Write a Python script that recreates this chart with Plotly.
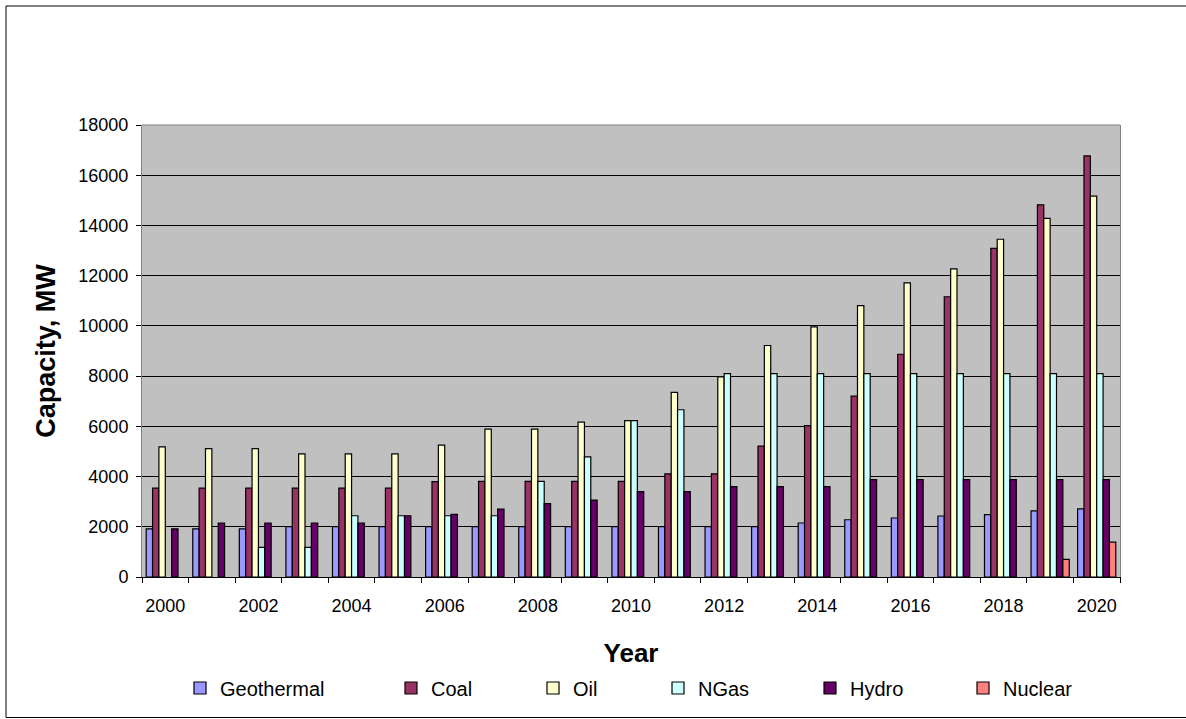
import plotly.graph_objects as go

# Installed generating capacity by source, MW
years = list(range(2000, 2021))
geothermal = [1920, 1920, 1920, 2010, 2010, 2010, 2010, 2010, 2010, 2010, 2010,
              2010, 2010, 2010, 2150, 2280, 2350, 2430, 2480, 2630, 2710]
coal = [3540, 3540, 3540, 3540, 3540, 3540, 3800, 3810, 3810, 3810, 3810,
        4110, 4110, 5210, 6030, 7200, 8870, 11160, 13090, 14820, 16770]
oil = [5180, 5110, 5110, 4900, 4900, 4900, 5250, 5890, 5890, 6170, 6230,
       7350, 7970, 9220, 9960, 10810, 11710, 12270, 13450, 14280, 15170]
ngas = [None, None, 1180, 1180, 2440, 2440, 2440, 2440, 3810, 4780, 6230,
        6660, 8100, 8100, 8100, 8100, 8100, 8100, 8100, 8100, 8100]
hydro = [1920, 2150, 2150, 2150, 2150, 2440, 2490, 2700, 2920, 3060, 3400,
         3400, 3600, 3600, 3600, 3880, 3880, 3880, 3880, 3880, 3880]
nuclear = [None] * 19 + [700, 1390]

series = [
    ("Geothermal", geothermal, "#9999FF"),
    ("Coal", coal, "#993366"),
    ("Oil", oil, "#FFFFCC"),
    ("NGas", ngas, "#CCFFFF"),
    ("Hydro", hydro, "#660066"),
    ("Nuclear", nuclear, "#FF8080"),
]

# left edge (px) of each legend entry along the bottom row
legend_left = [180, 391, 533, 658, 810, 963]

FONT = "Liberation Sans, Arial, sans-serif"
W, H = 1186, 719

fig = go.Figure()
layout_legends = {}
for i, (name, vals, color) in enumerate(series):
    key = "legend" if i == 0 else f"legend{i + 1}"
    fig.add_trace(go.Bar(
        x=years, y=vals, name=name,
        marker=dict(color=color, line=dict(color="black", width=1.2)),
        legend=key,
    ))
    layout_legends[key] = dict(
        xref="container", yref="container",
        x=legend_left[i] / W, y=1 - 688 / H,
        xanchor="left", yanchor="middle",
        orientation="h", bgcolor="rgba(0,0,0,0)",
        font=dict(family=FONT, size=20, color="black"),
        itemclick=False, itemdoubleclick=False,
    )

fig.update_layout(
    width=W, height=H,
    margin=dict(l=142, r=66, t=125, b=142, autoexpand=False),
    paper_bgcolor="white",
    plot_bgcolor="#C0C0C0",
    barmode="group",
    bargap=0.18,
    bargroupgap=0,
    showlegend=True,
    font=dict(family=FONT, size=18, color="black"),
    xaxis=dict(
        range=[1999.5, 2020.5],
        automargin=False,
        tickmode="array",
        tickvals=years[::2],
        ticktext=[str(y) for y in years[::2]],
        ticks="",
        tickfont=dict(size=18),
        ticklabelstandoff=12,
        showgrid=False,
        zeroline=False,
        showline=True, linecolor="black", linewidth=1,
        minor=dict(tickmode="linear", tick0=1999.5, dtick=1,
                   ticks="outside", ticklen=5, tickcolor="black",
                   tickwidth=1, showgrid=False),
        title=dict(text="<b>Year</b>", font=dict(size=26), standoff=40),
    ),
    yaxis=dict(
        range=[0, 18000],
        automargin=False,
        dtick=2000,
        tickformat="d",
        ticks="outside", ticklen=5, tickcolor="black",
        tickfont=dict(size=18),
        showgrid=True, gridcolor="black", gridwidth=1,
        zeroline=False,
        showline=True, linecolor="#808080", linewidth=1, mirror=True,
        ticklabelstandoff=4,
        title=dict(text="<b>Capacity, MW</b>", font=dict(size=27), standoff=14),
    ),
    shapes=[
        # top edge of plot area
        dict(type="line", xref="paper", yref="paper", x0=0, x1=1, y0=1, y1=1,
             line=dict(color="#808080", width=1)),
        # chart frame
        dict(type="rect", xref="paper", yref="paper",
             x0=(6 - 142) / 978, x1=(1210 - 142) / 978,
             y0=(577 - 717.5) / 452, y1=(577 - 6) / 452,
             line=dict(color="black", width=1), layer="below"),
    ],
    **layout_legends,
)

fig.write_html("out.html")
